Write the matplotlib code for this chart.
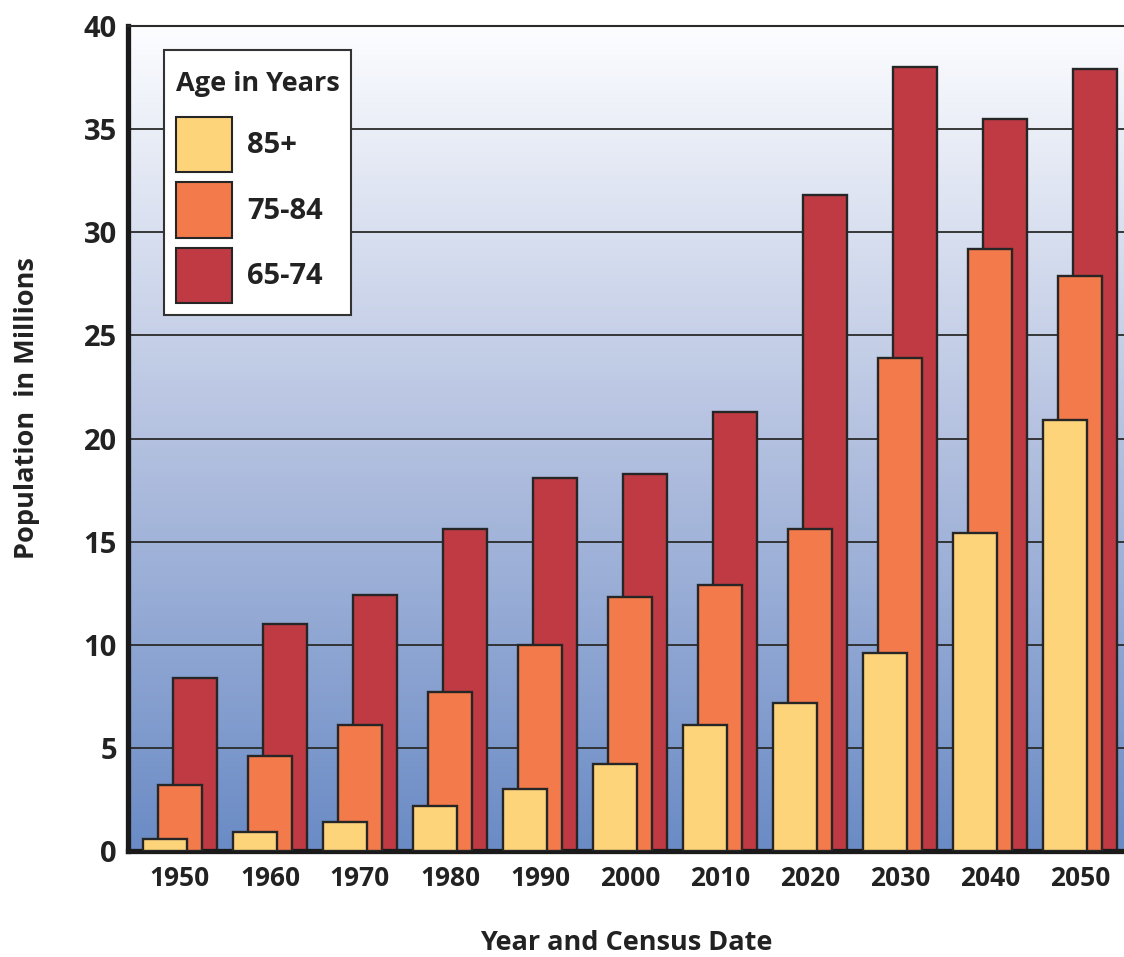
import numpy as np
import matplotlib.pyplot as plt
from matplotlib.colors import LinearSegmentedColormap
from matplotlib.patches import Patch
from matplotlib.offsetbox import VPacker, DrawingArea

plt.rcParams['font.family'] = ['Open Sans', 'DejaVu Sans']
plt.rcParams['font.weight'] = 'bold'

years = ['1950', '1960', '1970', '1980', '1990', '2000', '2010', '2020', '2030', '2040', '2050']
age_85_plus = [0.6, 0.9, 1.4, 2.2, 3.0, 4.2, 6.1, 7.2, 9.6, 15.4, 20.9]
age_75_84 = [3.2, 4.6, 6.1, 7.7, 10.0, 12.3, 12.9, 15.6, 23.9, 29.2, 27.9]
age_65_74 = [8.4, 11.0, 12.4, 15.6, 18.1, 18.3, 21.3, 31.8, 38.0, 35.5, 37.9]

c85 = '#fed47b'
c75 = '#f27a4b'
c65 = '#c03a44'
edge = '#262626'
txt = '#222222'

fig = plt.figure(figsize=(11.24, 9.57), dpi=100)
ax = fig.add_axes([128 / 1124, 106 / 957, 996 / 1124, 825 / 957])

# gradient background
grad = LinearSegmentedColormap.from_list('bg', ['#6a8bc5', '#b4c1e0', '#fcfdff'])
ax.imshow(np.linspace(0, 1, 256).reshape(-1, 1), cmap=grad, origin='lower',
          extent=[0, 1, 0, 1], transform=ax.transAxes, aspect='auto', zorder=0)

x = np.arange(len(years))
w = 0.49
off = 0.167

for yv in range(5, 40, 5):
    ax.axhline(yv, color='#2a2a2a', lw=1.3, zorder=1)

ax.bar(x + off, age_65_74, w, color=c65, edgecolor=edge, lw=1.7, zorder=2)
ax.bar(x, age_75_84, w, color=c75, edgecolor=edge, lw=1.7, zorder=3)
ax.bar(x - off, age_85_plus, w, color=c85, edgecolor=edge, lw=1.7, zorder=4)

ax.set_xlim(-0.578, 10.49)
ax.set_ylim(0, 40)
ax.set_xticks(x)
ax.set_xticklabels(years)
ax.set_yticks(range(0, 45, 5))
ax.tick_params(axis='x', length=0, pad=10, labelsize=19, colors=txt)
ax.tick_params(axis='y', length=0, pad=8, labelsize=21, colors=txt)

ax.spines['right'].set_visible(False)
ax.spines['top'].set_color('#2a2a2a')
ax.spines['top'].set_linewidth(1.5)
ax.spines['left'].set_linewidth(3.8)
ax.spines['bottom'].set_linewidth(3.8)
ax.spines['left'].set_color('#1a1a1a')
ax.spines['bottom'].set_color('#1a1a1a')

fig.text(626 / 1124, 1 - 943 / 957, 'Year and Census Date', ha='center', va='center',
         fontsize=19.5, fontweight='bold', color=txt)
fig.text(27 / 1124, 1 - 408 / 957, 'Population  in Millions', rotation=90,
         ha='center', va='center', fontsize=19.5, fontweight='bold', color=txt)

handles = [Patch(facecolor=c85, edgecolor=edge, lw=1.5),
           Patch(facecolor=c75, edgecolor=edge, lw=1.5),
           Patch(facecolor=c65, edgecolor=edge, lw=1.5)]
leg = ax.legend(handles, ['85+', '75-84', '65-74'], title='Age in Years',
                loc='upper left', bbox_to_anchor=(0.0361, 0.971), borderaxespad=0,
                fontsize=21, title_fontproperties={'weight': 'bold', 'size': 19.5},
                handlelength=1.95, handleheight=2.55, labelspacing=0.34,
                handletextpad=0.5, borderpad=0.4, fancybox=False, framealpha=1,
                edgecolor='#333333', alignment='left')
# push the title down a little and set the gap below it
box = leg._legend_box
box._children[0] = VPacker(pad=0, sep=0, children=[DrawingArea(1, 7), box._children[0]])
box.sep = 14
leg.get_frame().set_linewidth(1.5)
leg.set_zorder(10)
for t in leg.get_texts():
    t.set_color(txt)
leg.get_title().set_color(txt)

fig.savefig('out.png', dpi=100)
